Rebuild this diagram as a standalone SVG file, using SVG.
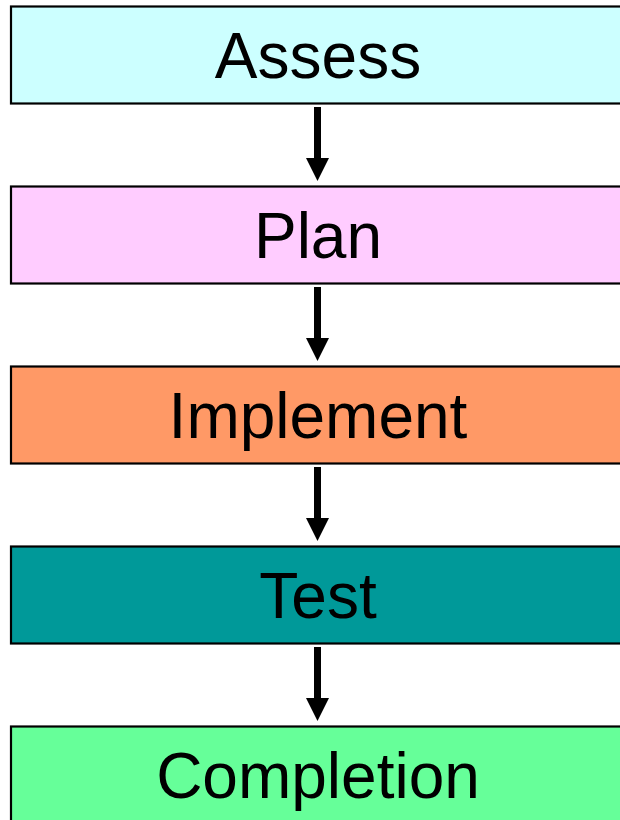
<svg xmlns="http://www.w3.org/2000/svg" width="620" height="820" viewBox="0 0 620 820">
<style>
.box{stroke:#000;stroke-width:2.2}
.lbl{font-family:"Liberation Sans",Arial,sans-serif;font-size:64px;fill:#000;text-anchor:middle}
.arr{fill:#000}
</style>
<rect width="620" height="820" fill="#fff"/>
<g id="assess"><rect class="box" x="11" y="6.5" width="620" height="97" fill="#CCFFFF"/><text class="lbl" x="318" y="78">Assess</text></g>
<g id="plan"><rect class="box" x="11" y="186.5" width="620" height="97" fill="#FFCCFF"/><text class="lbl" x="318" y="258">Plan</text></g>
<g id="implement"><rect class="box" x="11" y="366.5" width="620" height="97" fill="#FF9966"/><text class="lbl" x="318" y="438">Implement</text></g>
<g id="test"><rect class="box" x="11" y="546.5" width="620" height="97" fill="#009999"/><text class="lbl" x="318" y="618">Test</text></g>
<g id="completion"><rect class="box" x="11" y="726.5" width="620" height="97" fill="#66FF99"/><text class="lbl" x="318" y="798">Completion</text></g>
<g id="connectors">
<path class="arr" d="M314 107h7v51h8l-11.5 23l-11.5-23h8z"/>
<path class="arr" d="M314 287h7v51h8l-11.5 23l-11.5-23h8z"/>
<path class="arr" d="M314 467h7v51h8l-11.5 23l-11.5-23h8z"/>
<path class="arr" d="M314 647h7v51h8l-11.5 23l-11.5-23h8z"/>
</g>
</svg>
